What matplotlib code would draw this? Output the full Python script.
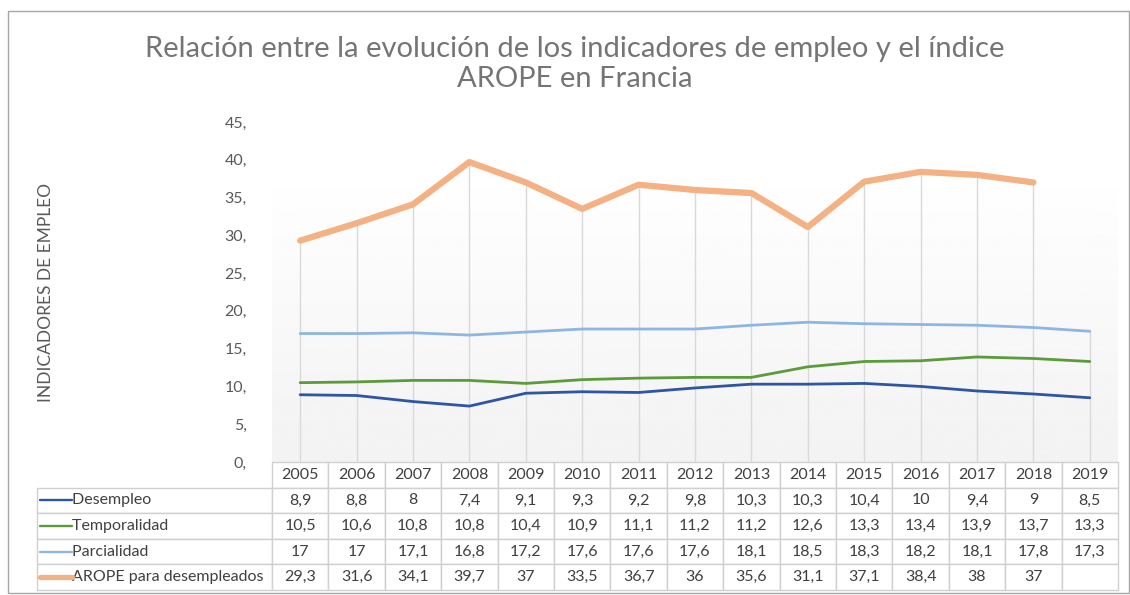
import numpy as np
import matplotlib
matplotlib.use("Agg")
import matplotlib.pyplot as plt
from matplotlib.patches import Rectangle
from matplotlib.lines import Line2D

plt.rcParams['font.family'] = ['Lato', 'DejaVu Sans']

# datos
years = ["2005", "2006", "2007", "2008", "2009", "2010", "2011", "2012",
         "2013", "2014", "2015", "2016", "2017", "2018", "2019"]
desempleo = [8.9, 8.8, 8, 7.4, 9.1, 9.3, 9.2, 9.8, 10.3, 10.3, 10.4, 10, 9.4, 9, 8.5]
temporalidad = [10.5, 10.6, 10.8, 10.8, 10.4, 10.9, 11.1, 11.2, 11.2, 12.6, 13.3, 13.4, 13.9, 13.7, 13.3]
parcialidad = [17, 17, 17.1, 16.8, 17.2, 17.6, 17.6, 17.6, 18.1, 18.5, 18.3, 18.2, 18.1, 17.8, 17.3]
arope = [29.3, 31.6, 34.1, 39.7, 37, 33.5, 36.7, 36, 35.6, 31.1, 37.1, 38.4, 38, 37, np.nan]

series_names = ["Desempleo", "Temporalidad", "Parcialidad", "AROPE para desempleados"]
series_vals = [desempleo, temporalidad, parcialidad, arope]
colors = ["#2f55a3", "#5b9b3b", "#8fb5e3", "#f4b183"]
widths = [2.0, 2.0, 2.0, 4.5]

W, H = 1130, 595
fig = plt.figure(figsize=(W / 100, H / 100), dpi=100)

# marco del gráfico
fig.patches.append(Rectangle((8 / W, 2 / H), 1 - 9 / W, 1 - 13 / H, transform=fig.transFigure,
                             fill=False, edgecolor="#a6a6a6", lw=1.0))

left, right = 272 / W, 1118 / W
bottom, top = 1 - 462 / H, 1 - 122 / H
ax = fig.add_axes([left, bottom, right - left, top - bottom])

x = np.arange(len(years))
ax.set_xlim(-0.5, len(years) - 0.5)
ax.set_ylim(0, 45)

# fondo degradado del área de trazado
grad = np.linspace(0.95, 1.0, 256).reshape(-1, 1)
ax.imshow(grad, cmap="gray", vmin=0, vmax=1, origin="lower", aspect="auto",
          extent=(-0.5, len(years) - 0.5 + 0.07, 0, 39.3), zorder=0)

# líneas de caída
tops = np.nanmax(np.array(series_vals, dtype=float), axis=0)
ax.vlines(x, 0, tops, color="#d9d9d9", lw=1.0, zorder=1)

for vals, c, lw in zip(series_vals, colors, widths):
    ax.plot(x, vals, color=c, lw=lw, solid_capstyle="round", zorder=3)

ax.set_yticks(np.arange(0, 46, 5))
ax.set_yticklabels([f"{v}," for v in range(0, 46, 5)], fontsize=11.5, color="#595959")
ax.tick_params(axis="y", length=0, pad=18)
ax.set_xticks([])
for s in ax.spines.values():
    s.set_visible(False)

ax.set_ylabel("INDICADORES DE EMPLEO", fontsize=12.5, color="#595959", labelpad=0)
ax.yaxis.set_label_coords(-0.258, 0.5)

fig.text(575 / W, 1 - 64 / H,
         "Relación entre la evolución de los indicadores de empleo y el índice\nAROPE en Francia",
         fontsize=21, color="#757575", ha="center", va="center", linespacing=1.2)

# tabla de datos
def fmt(v):
    if np.isnan(v):
        return ""
    s = f"{v:g}"
    return s.replace(".", ",")

cell_text = [[""] + years]
for name, vals in zip(series_names, series_vals):
    cell_text.append(["        " + name] + [fmt(v) for v in vals])

label_w = (272 - 37) / (right - left) / W
col_w = 1 / len(years)
tb_h = (590 - 462) / (top - bottom) / H
tbl = ax.table(cellText=cell_text, colWidths=[label_w] + [col_w] * len(years),
               bbox=[-label_w, -tb_h, label_w + 1, tb_h], cellLoc="center")
tbl.auto_set_font_size(False)
tbl.set_fontsize(11.5)
for (r, c), cell in tbl.get_celld().items():
    cell.set_edgecolor("#d0d0d0")
    cell.set_linewidth(1.0)
    cell.get_text().set_color("#404040")
    cell.set_facecolor("white")
    if c == 0:
        cell.get_text().set_ha("left")
        cell.PAD = 0.01
    if r == 0 and c == 0:
        cell.visible_edges = ""

# marcadores de leyenda en la tabla
row_h = tb_h / 5
for i, (c, lw) in enumerate(zip(colors, widths)):
    yy = -tb_h + row_h * (3 - i) + row_h / 2
    ax.add_line(Line2D([-label_w + 0.003, -label_w + 0.041], [yy, yy], transform=ax.transAxes,
                       color=c, lw=lw * 0.85, solid_capstyle="round", clip_on=False))

fig.savefig("out.png", dpi=100)
